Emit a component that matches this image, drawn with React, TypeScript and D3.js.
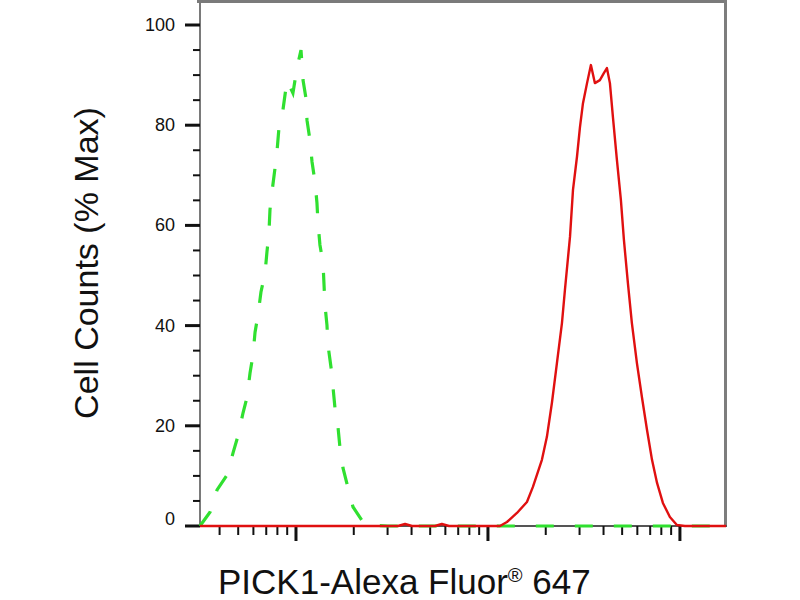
import React from "react";
import * as d3 from "d3";

// Y axis ticks (% Max)
const yMajorTicks = [0, 20, 40, 60, 80, 100];
const yMinorTicks = [5, 10, 15, 25, 30, 35, 45, 50, 55, 65, 70, 75, 85, 90, 95];
// X axis ticks (log scale, unlabeled decades)
const xMajorTicks = [10, 100, 1000];
const xMinorTicks = [4, 5, 6, 7, 8, 9, 20, 30, 40, 50, 60, 70, 80, 90, 200, 300, 400, 500, 600, 700, 800, 900];

// Green dashed histogram (control)
const greenX = [3.16, 3.57, 3.88, 4.38, 4.7, 4.99, 5.3, 5.56, 5.76, 5.97, 6.12, 6.34, 6.57, 6.9, 7.06, 7.23, 7.32, 7.5, 7.78, 7.96, 8.15, 8.55, 8.98, 9.64, 10.12, 10.62,
  10.88, 11.27, 11.41, 11.83, 12.12, 12.56, 12.86, 13.02, 13.33, 13.83, 14.0, 14.16, 14.5, 14.68, 15.22, 15.59, 15.96, 16.55, 16.95, 17.57, 18.66, 19.82, 22.87,
  30, 60, 120, 300, 800, 1738];
const greenY = [0, 2.8, 7.2, 10.2, 14.6, 18.0, 22.6, 25.7, 30.5, 34.1, 38.7, 42.1, 46.7, 50.5, 54.7, 58.5, 63.1, 66.7, 71.5, 74.7, 79.4, 83.0, 89.0, 86.4, 91.4, 95.0,
  89.0, 85.4, 81.0, 77.0, 72.7, 68.7, 64.5, 60.5, 56.1, 52.5, 48.1, 44.1, 40.1, 36.1, 31.7, 27.7, 23.6, 19.8, 15.6, 11.6, 7.6, 3.8, 0.2,
  0, 0, 0, 0, 0, 0];

// Red solid histogram (PICK1)
const redX = [3.16, 10.49, 34.0, 37.0, 40.2, 53.0, 57.5, 62.7, 98.9, 115.5, 125.6, 141.6, 159.6, 171.5, 191.0, 202.8, 215.4, 228.7, 242.9, 251.7, 267.5, 277.3,
  290.9, 301.5, 312.6, 328.2, 343.8, 360.5, 382.9, 401.5, 416.5, 431.8, 447.7, 469.6, 492.5, 510.8, 535.8, 562.0, 597.0, 634.1, 673.6, 715.4, 759.9, 815.1,
  886.6, 964.3, 1061, 1738];
const redY = [0, 0, 0, 0.4, 0, 0, 0.4, 0, 0, 0, 0.8, 2.6, 4.8, 7.8, 13.2, 17.8, 24.6, 32.5, 40.5, 47.1, 57.7, 67.1,
  73.7, 79.6, 84.4, 88.4, 92.0, 88.4, 89.0, 90.4, 91.4, 88.4, 81.6, 73.1, 65.1, 57.1, 48.5, 40.5, 32.5, 25.7, 19.2, 13.2, 8.6, 4.6,
  1.8, 0.2, 0, 0];

const X_LABEL_MAIN = "PICK1-Alexa Fluor";
const X_LABEL_SUP = "®";
const X_LABEL_END = " 647";
const Y_LABEL = "Cell Counts (% Max)";

export default function App() {
  const left = 200, right = 726, top = 25, bottom = 526;
  const x = d3.scaleLog().domain([Math.pow(10, 0.5), Math.pow(10, 3.24)]).range([left, right]);
  const y = d3.scaleLinear().domain([0, 100]).range([bottom, top]);

  const line = d3.line<[number, number]>().x(d => x(d[0])).y(d => y(d[1])).curve(d3.curveLinear);
  const greenPts = greenX.map((v, i) => [v, greenY[i]] as [number, number]);
  const redPts = redX.map((v, i) => [v, redY[i]] as [number, number]);

  const font = "'Liberation Sans', Arial, sans-serif";

  return (
    <div style={{ position: "absolute", left: 0, top: 0 }}>
      <svg width={800} height={600} style={{ display: "block", background: "#fff" }}>
        <rect x={0} y={0} width={800} height={600} fill="#fff" />
        {/* frame */}
        <line x1={197} x2={727} y1={1.5} y2={1.5} stroke="#7a7a7a" strokeWidth={3} />
        <line x1={725.5} x2={725.5} y1={0} y2={527} stroke="#7d7d7d" strokeWidth={3} />
        <line x1={200} x2={200} y1={0} y2={527} stroke="#7a7a7a" strokeWidth={2} />
        <line x1={200} x2={727} y1={bottom} y2={bottom} stroke="#555" strokeWidth={2} />

        {/* y ticks */}
        {yMajorTicks.map(t => (
          <line key={"ym" + t} x1={185} x2={200} y1={y(t)} y2={y(t)} stroke="#111" strokeWidth={3} />
        ))}
        {yMinorTicks.map(t => (
          <line key={"yn" + t} x1={193} x2={200} y1={y(t)} y2={y(t)} stroke="#111" strokeWidth={2} />
        ))}
        {yMajorTicks.map(t => (
          <text key={"yl" + t} x={175} y={y(t) + (t === 0 ? -1 : 6)} textAnchor="end" fontFamily={font} fontSize={18} fill="#111">
            {t}
          </text>
        ))}

        {/* x ticks */}
        {xMajorTicks.map(t => (
          <line key={"xm" + t} x1={x(t)} x2={x(t)} y1={bottom} y2={541} stroke="#111" strokeWidth={3} />
        ))}
        {xMinorTicks.map(t => (
          <line key={"xn" + t} x1={x(t)} x2={x(t)} y1={bottom} y2={535} stroke="#111" strokeWidth={2} />
        ))}

        {/* histograms */}
        <path d={line(greenPts) || ""} fill="none" stroke="#30e030" strokeWidth={3.2} strokeDasharray="18 21" />
        <path d={line(redPts) || ""} fill="none" stroke="#e01010" strokeWidth={2.4} strokeLinejoin="round" />

        {/* axis labels */}
        <text transform="translate(98,263) rotate(-90)" textAnchor="middle" fontFamily={font} fontSize={34} fill="#111">
          {Y_LABEL}
        </text>
        <text x={218} y={594} fontFamily={font} fontSize={35} fill="#111">
          {X_LABEL_MAIN}
          <tspan fontSize={20} dy={-12}>{X_LABEL_SUP}</tspan>
          <tspan fontSize={35} dy={12}>{X_LABEL_END}</tspan>
        </text>
      </svg>
    </div>
  );
}
